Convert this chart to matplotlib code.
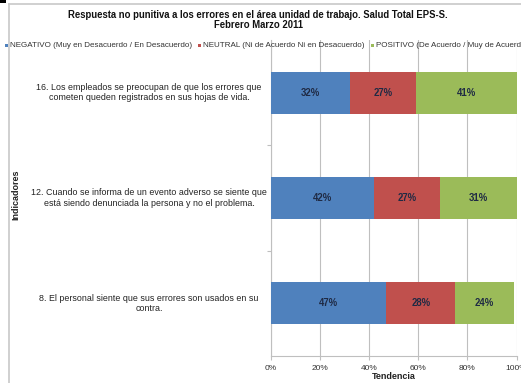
import matplotlib
matplotlib.use("Agg")
import matplotlib.pyplot as plt
from matplotlib.patches import Rectangle
from matplotlib.lines import Line2D

plt.rcParams['font.family'] = ['Liberation Sans', 'DejaVu Sans']

# Indicators, top to bottom
indicadores = [
    "16. Los empleados se preocupan de que los errores que\ncometen queden registrados en sus hojas de vida.",
    "12. Cuando se informa de un evento adverso se siente que\nestá siendo denunciada la persona y no el problema.",
    "8. El personal siente que sus errores son usados en su\ncontra.",
]
negativo = [32, 42, 47]
neutral = [27, 27, 28]
positivo = [41, 31, 24]

series_names = [
    "NEGATIVO (Muy en Desacuerdo / En Desacuerdo)",
    "NEUTRAL (Ni de Acuerdo Ni en Desacuerdo)",
    "POSITIVO (De Acuerdo / Muy de Acuerdo)",
]
colors = ["#4F81BD", "#C0504D", "#9BBB59"]
x_ticks = [0, 20, 40, 60, 80, 100]
x_tick_labels = ["0%", "20%", "40%", "60%", "80%", "100%"]

W, H = 521, 383
fig = plt.figure(figsize=(W / 100, H / 100), dpi=100)
fig.patch.set_facecolor("white")

# chart frame
fig.add_artist(Line2D([9 / W, 9 / W], [0, 1 - 4 / H], transform=fig.transFigure,
                      color="#C8C8C8", lw=1.2))
fig.add_artist(Line2D([9 / W, 1], [1 - 4 / H, 1 - 4 / H], transform=fig.transFigure,
                      color="#C8C8C8", lw=1.2))
fig.add_artist(Rectangle((0, 1 - 3 / H), 6 / W, 3 / H, transform=fig.transFigure,
                         color="black", lw=0))

ax = fig.add_axes([271 / W, 27 / H, 245.5 / W, 316 / H])

ypos = list(range(len(indicadores)))[::-1]
bh = 0.4
left = [0] * len(indicadores)
for vals, col in zip([negativo, neutral, positivo], colors):
    bars = ax.barh(ypos, vals, left=left, height=bh, color=col, edgecolor="none", zorder=3)
    for b, v, l in zip(bars, vals, left):
        ax.text(l + v / 2, b.get_y() + bh / 2, f"{v}%", ha="center", va="center",
                fontsize=6.9, fontweight="bold", color="#1F2A44", zorder=4)
    left = [a + b for a, b in zip(left, vals)]

ax.set_xlim(0, 100)
ax.set_ylim(-0.5, 2.5)
ax.set_xticks(x_ticks)
ax.set_xticklabels(x_tick_labels, fontsize=6, color="#333333")
ax.xaxis.grid(True, color="#BFBFBF", lw=0.8, zorder=0)
ax.set_yticks([0.5, 1.5])
ax.set_yticklabels([])
ax.tick_params(axis="y", length=3, color="#BFBFBF", direction="out")
ax.tick_params(axis="x", length=3, color="#BFBFBF", pad=3.5)
for s in ["top", "right"]:
    ax.spines[s].set_visible(False)
for s in ["left", "bottom"]:
    ax.spines[s].set_color("#BFBFBF")
    ax.spines[s].set_linewidth(0.8)

for y, lab in zip(ypos, indicadores):
    fig.text(149 / W, ax.transData.transform((0, y))[1] / H, lab, ha="center", va="center",
             multialignment="center", fontsize=6.4, color="#222222", linespacing=1.2)

ax.set_xlabel("Tendencia", fontsize=6.5, fontweight="bold", labelpad=0, color="#222222")
fig.text(16 / W, 1 - 195 / H, "Indicadores", rotation=90, ha="center", va="center",
         fontsize=6.5, fontweight="bold", color="#222222")

fig.text(258 / W, 1 - 20 / H,
         "Respuesta no punitiva a los errores en el área unidad de trabajo. Salud Total EPS-S.\nFebrero Marzo 2011",
         ha="center", va="center", fontsize=6.85, fontweight="bold", color="#111111",
         linespacing=1.1)

# legend row: marker, label, then the next entry
renderer = fig.canvas.get_renderer()
x0 = 5
for name, col in zip(series_names, colors):
    fig.add_artist(Rectangle((x0 / W, 1 - 47 / H), 3 / W, 3 / H, transform=fig.transFigure,
                             color=col, lw=0))
    t = fig.text((x0 + 5) / W, 1 - 45.5 / H, name, ha="left", va="center", fontsize=5.75,
                 color="#333333")
    x0 = t.get_window_extent(renderer).x1 + 6

fig.savefig("out.png", dpi=100)
